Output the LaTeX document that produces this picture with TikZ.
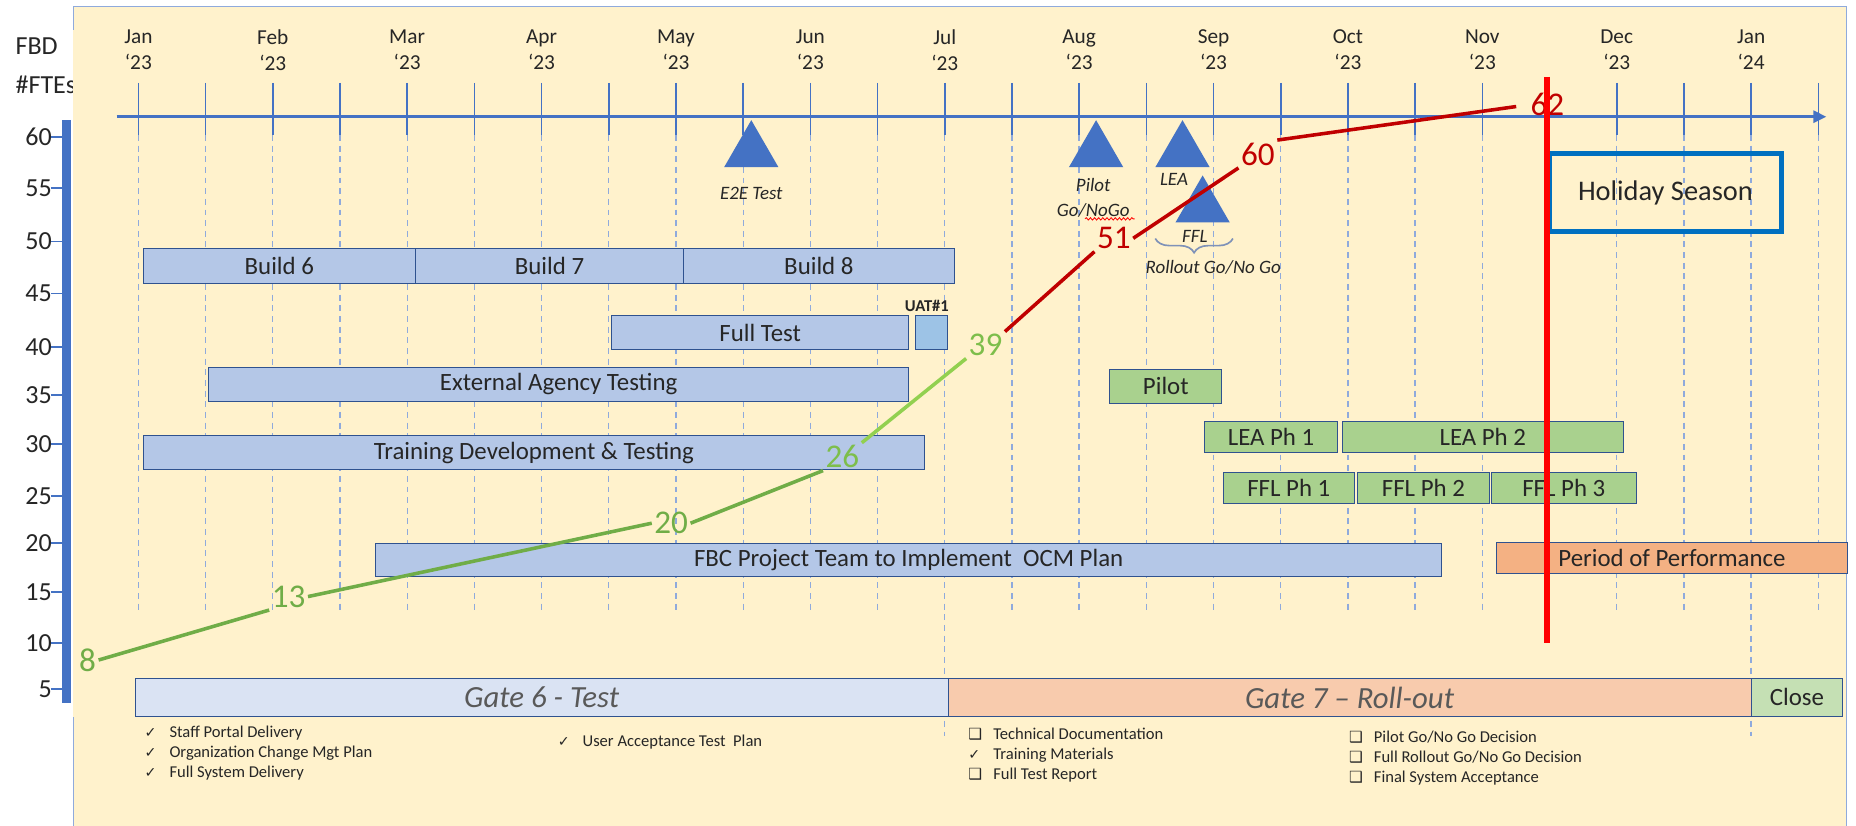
\documentclass[tikz,border=0pt]{standalone}
\usepackage{fontspec}
\setmainfont{Carlito}
\newfontfamily\symf{DejaVu Sans}
\usetikzlibrary{positioning, shapes.geometric, arrows.meta, decorations.pathreplacing, decorations.pathmorphing}

\definecolor{panelbg}{HTML}{FFF2CC}
\definecolor{panelline}{HTML}{8FAADC}
\definecolor{axisblue}{HTML}{4472C4}
\definecolor{gridblue}{HTML}{8FAADC}
\definecolor{bracegray}{HTML}{7F92B8}
\definecolor{barblue}{HTML}{B4C7E7}
\definecolor{barline}{HTML}{2F528F}
\definecolor{uatblue}{HTML}{9DC3E6}
\definecolor{bargreen}{HTML}{A9D18E}
\definecolor{barorange}{HTML}{F4B183}
\definecolor{gatesix}{HTML}{DAE3F3}
\definecolor{gateseven}{HTML}{F8CBAD}
\definecolor{closegreen}{HTML}{C5E0B4}
\definecolor{ftegreen}{HTML}{70AD47}
\definecolor{ftelight}{HTML}{92D050}
\definecolor{ftelabel}{HTML}{7DBE4B}
\definecolor{ftered}{HTML}{C00000}
\definecolor{holiday}{HTML}{0070C0}
\definecolor{darktext}{HTML}{262626}
\definecolor{gatetext}{HTML}{595959}

\newcommand{\chk}{\makebox[21pt][l]{\symf\fontsize{12}{14}\selectfont ✓}}
\newcommand{\cbox}{\makebox[21pt][l]{\symf\fontsize{13}{14}\selectfont ❑}}

\begin{document}
\begin{tikzpicture}[x=1pt, y=-1pt,
		bar/.style={rectangle, draw=barline, line width=0.8pt, fill=barblue, inner sep=0pt, outer sep=0pt, minimum height=29pt, text=darktext, font=\fontsize{21}{25}\selectfont},
		greenbar/.style={bar, fill=bargreen, minimum height=26pt},
		gate/.style={bar, minimum height=32pt, text=gatetext, font=\fontsize{26}{30}\selectfont\itshape},
		month/.style={align=center, inner sep=0pt, text=darktext, font=\fontsize{18}{22}\selectfont},
		ylabel/.style={anchor=east, inner sep=0pt, text=darktext, font=\fontsize{22}{26}\selectfont},
		monthtick/.style={axisblue, line width=1.3pt},
		monthgrid/.style={gridblue, line width=1.1pt, dash pattern=on 5pt off 4pt},
		milestone/.style={regular polygon, regular polygon sides=3, fill=axisblue, minimum size=53pt, inner sep=0pt, outer sep=0pt},
		mslabel/.style={inner sep=0pt, align=center, text=darktext, font=\fontsize{16}{21}\selectfont\itshape},
		fte/.style={inner sep=2pt, font=\fontsize{28}{30}\selectfont},
		fteline/.style={line width=3pt},
		checklist/.style={anchor=west, align=left, inner sep=0pt, text=darktext, font=\fontsize{14}{17}\selectfont},
		gobrace/.style={decorate, decoration={brace, mirror, amplitude=12pt}, draw=bracegray, line width=1.4pt}
		]
		
		\useasboundingbox (0,0) rectangle (1568,697);
		\fill[white] (0,0) rectangle (1568,697);
		
		% Axis title and panel
		\node[anchor=west, inner sep=0pt, text=darktext, font=\fontsize{22}{26}\selectfont] (fbd) at (13,39.4) {FBD};
		\node[anchor=west, inner sep=0pt, text=darktext, font=\fontsize{22}{26}\selectfont] (ftes) at (13,71.8) {\#FTEs};
		\fill[panelbg] (62,5.6) rectangle (1560,700);
		\draw[panelline, line width=1.2pt] (62,25) -- (62,5.6) -- (1560,5.6) -- (1560,700);
		\draw[panelline, line width=1.2pt] (62,606) -- (62,700);
		
		% FTE scale
		\fill[axisblue] (52,101) rectangle (60,594);
		\foreach \v/\yy in {60/115.5, 55/159, 50/204, 45/248, 40/293, 35/334, 30/375, 25/419, 20/459, 15/500, 10/543, 5/582} {
			\draw[axisblue, line width=1.5pt] (43,\yy) -- (60,\yy);
			\node[ylabel] (y\v) at (44,\yy) {\v};
		}
		
		% Months
		\foreach \mo/\yr [count=\i from 0] in {Jan/23,Feb/23,Mar/23,Apr/23,May/23,Jun/23,Jul/23,Aug/23,Sep/23,Oct/23,Nov/23,Dec/23,Jan/24}
			\node[month] (mon\i) at ({116.9+113.54*\i},42) {\mo\\‘\yr};
		
		\foreach \k in {0,...,25} {
			\pgfmathsetmacro{\tx}{116.9+56.77*\k}
			\pgfmathsetmacro{\ty}{(\k==12 || \k==24) ? 622 : 515}
			\draw[monthgrid] (\tx,114) -- (\tx,\ty);
			\draw[monthtick] (\tx,70) -- (\tx,114);
		}
		\coordinate (ax0) at (98.5,98.6);
		\coordinate (ax1) at (1543,98.6);
		\draw[axisblue, line width=3pt, -{Triangle[length=11pt, width=10pt]}] (ax0) -- (ax1);
		
		% Bars
		\node[bar, minimum width=230pt, anchor=west] (b6) at (121,224.7) {Build 6};
		\node[bar, minimum width=226.5pt, right=0pt of b6] (b7) {Build 7};
		\node[bar, minimum width=228.6pt, right=0pt of b7] (b8) {Build 8};
		\node[bar, minimum width=251pt, anchor=west] (ft) at (516.7,281) {Full Test};
		\node[bar, fill=uatblue, minimum width=26.7pt, right=6pt of ft] (uat) {};
		\node[inner sep=0pt, text=darktext, font=\fontsize{14}{16}\selectfont\bfseries, above=3pt of uat, xshift=-4pt] (uatl) {UAT\#1};
		\node[bar, minimum width=591.8pt, anchor=west] (eat) at (176,324.8) {External Agency Testing};
		\node[bar, minimum width=660pt, anchor=west] (tdt) at (121,382.5) {Training Development \& Testing};
		\node[bar, minimum width=900.7pt, minimum height=28pt, anchor=west] (fbc) at (317.3,473) {FBC Project Team to Implement\ \ OCM Plan};
		\node[greenbar, minimum width=94.6pt, minimum height=28.7pt, anchor=west] (pilot) at (937.6,326.4) {Pilot};
		\node[greenbar, minimum width=112.8pt, anchor=west] (lea1) at (1017.4,369.3) {LEA Ph 1};
		\node[greenbar, minimum width=237pt, right=4pt of lea1] (lea2) {LEA Ph 2};
		\node[greenbar, minimum width=111pt, anchor=west] (ffl1) at (1033.3,412.5) {FFL Ph 1};
		\node[greenbar, minimum width=111.3pt, right=2.6pt of ffl1] (ffl2) {FFL Ph 2};
		\node[greenbar, minimum width=122.5pt, right=1.7pt of ffl2] (ffl3) {FFL Ph 3};
		\node[bar, fill=barorange, minimum height=26pt, minimum width=297pt, anchor=west] (pop) at (1264,471.4) {Period of Performance};
		
		% Gates
		\node[gate, fill=gatesix, minimum width=686.8pt, anchor=west] (g6) at (114.2,589.2) {Gate 6 - Test};
		\node[gate, fill=gateseven, minimum width=678.3pt, right=0pt of g6] (g7) {Gate 7 – Roll-out};
		\node[gate, fill=closegreen, minimum width=77.5pt, right=0pt of g7, text=darktext, font=\fontsize{21}{25}\selectfont] (close) {Close};
		
		% Milestones
		\node[milestone] (e2e) at (634.7,128) {};
		\node[milestone] (pgo) at (926,128) {};
		\node[milestone] (lea) at (999,128) {};
		\node[milestone] (ffl) at (1016,174.7) {};
		\node[mslabel] (e2el) at (634.7,163.3) {E2E Test};
		\node[mslabel] (pgol) at (923.6,166.8) {Pilot\\Go/NoGo};
		\node[mslabel] (leal) at (991.8,151.5) {LEA};
		\node[mslabel] (ffll) at (1009.4,200) {FFL};
		\node[mslabel] (rgol) at (1025,226) {Rollout Go/No Go};
		\draw[gobrace] (976,201.5) -- (1041.6,201.5);
		\draw[red, line width=0.7pt, decorate, decoration={snake, amplitude=1pt, segment length=3.5pt}] ([xshift=-7pt,yshift=-1.5pt]pgol.south) -- ([xshift=35pt,yshift=-1.5pt]pgol.south);
		
		\node[draw=holiday, line width=4pt, minimum width=195.5pt, minimum height=66pt, inner sep=0pt, text=darktext, font=\fontsize{24}{28}\selectfont] (hol) at (1407,162.6) {Holiday Season};
		
		% FTE curve
		\node[fte, text=ftegreen] (f8) at (74,557.6) {8};
		\node[fte, text=ftegreen] (f13) at (243.8,504) {13};
		\node[fte, text=ftegreen] (f20) at (567,442) {20};
		\node[fte, text=ftelabel] (f26) at (711.7,385.8) {26};
		\node[fte, text=ftelabel] (f39) at (832.6,291.5) {39};
		\node[fte, text=ftered] (f51) at (941,201.3) {51};
		\node[fte, text=ftered] (f60) at (1062.7,130.1) {60};
		\node[fte, text=ftered] (f62) at (1307.3,88) {62};
		
		\draw[fteline, ftegreen] (f8.east) -- (f13.south west);
		\draw[fteline, ftegreen] (f13.east) -- (f20.west);
		\draw[fteline, ftegreen] (f20.east) -- (f26.south west);
		\draw[fteline, ftelight] (f26.north east) -- (f39.south west);
		\draw[fteline, ftered] (f39.north east) -- (f51.south west);
		\draw[fteline, ftered] (f51.east) -- (f60.south west);
		\draw[fteline, ftered] (f60.north east) -- ([xshift=-10pt,yshift=-2pt]f62.west);
		
		% Today line
		\coordinate (nowtop) at (1307.3,65);
		\coordinate (nowbot) at (1307.3,543.5);
		\draw[red, line width=5pt] (nowtop) -- (nowbot);
		
		% Deliverables
		\node[checklist] (cl1) at (122,636.4) {\chk Staff Portal Delivery\\\chk Organization Change Mgt Plan\\\chk Full System Delivery};
		\node[checklist] (cl2) at (471,626.6) {\chk User Acceptance Test\ \ Plan};
		\node[checklist] (cl3) at (818,637.8) {\cbox Technical Documentation\\\chk Training Materials\\\cbox Full Test Report};
		\node[checklist] (cl4) at (1139.5,640.6) {\cbox Pilot Go/No Go Decision\\\cbox Full Rollout Go/No Go Decision\\\cbox Final System Acceptance};
		
	\end{tikzpicture}
\end{document}
